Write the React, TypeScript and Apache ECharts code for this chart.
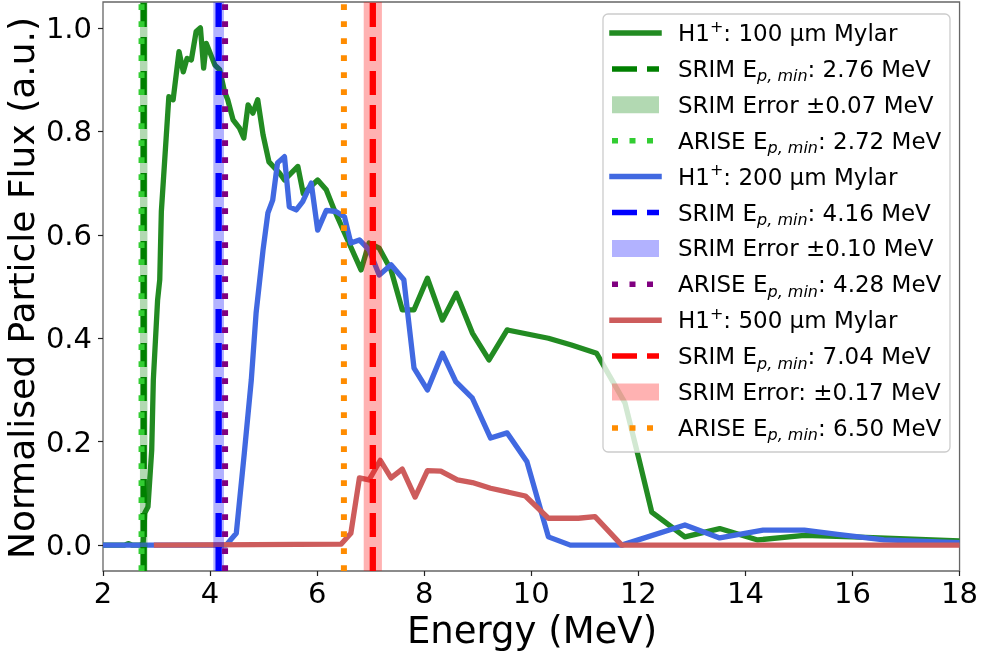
import React, { useEffect, useRef } from "react";
import * as echarts from "echarts";

const FONT = "'DejaVu Sans', sans-serif";

// ---- data ----
const xTicks = [2, 18, 2]; // min, max, interval
const yTicks = [0, 0.2, 0.4, 0.6, 0.8, 1.0];

const green100E = [2.0, 2.4, 2.47, 2.55, 2.7, 2.75, 2.78, 2.84, 2.91, 2.94, 3.02, 3.06, 3.09, 3.23, 3.31, 3.42, 3.5, 3.57, 3.65, 3.74, 3.82, 3.88, 3.93, 4.09, 4.18, 4.27, 4.33, 4.43, 4.55, 4.63, 4.71, 4.8, 4.89, 4.99, 5.1, 5.3, 5.39, 5.64, 5.74, 6.01, 6.17, 6.32, 6.82, 6.97, 7.16, 7.38, 7.59, 7.81, 8.06, 8.34, 8.6, 8.9, 9.21, 9.55, 10.32, 10.75, 11.22, 11.75, 12.0, 12.25, 12.87, 13.52, 14.23, 15.1, 16.0, 17.0, 18.0];
const green100Flux = [0, 0, 0.003, 0, 0, 0.004, 0.062, 0.074, 0.184, 0.319, 0.474, 0.513, 0.645, 0.867, 0.861, 0.954, 0.915, 0.941, 0.938, 0.993, 1.0, 0.922, 0.97, 0.928, 0.919, 0.877, 0.861, 0.822, 0.806, 0.787, 0.851, 0.835, 0.861, 0.793, 0.741, 0.719, 0.706, 0.732, 0.68, 0.706, 0.687, 0.648, 0.532, 0.584, 0.574, 0.532, 0.455, 0.455, 0.516, 0.435, 0.487, 0.41, 0.358, 0.416, 0.4, 0.387, 0.371, 0.275, 0.171, 0.064, 0.016, 0.032, 0.01, 0.019, 0.016, 0.012, 0.008];

const blue200E = [2.0, 4.3, 4.49, 4.64, 4.77, 4.86, 4.99, 5.08, 5.17, 5.26, 5.39, 5.48, 5.61, 5.73, 5.89, 6.01, 6.17, 6.35, 6.51, 6.63, 6.79, 6.97, 7.16, 7.38, 7.62, 7.81, 8.06, 8.34, 8.59, 8.9, 9.24, 9.55, 9.92, 10.32, 10.73, 11.69, 12.87, 13.52, 14.33, 15.1, 15.72, 16.59, 18.0];
const blue200Flux = [0, 0, 0.023, 0.178, 0.319, 0.449, 0.571, 0.642, 0.667, 0.739, 0.751, 0.654, 0.648, 0.664, 0.7, 0.609, 0.647, 0.645, 0.635, 0.584, 0.59, 0.571, 0.522, 0.542, 0.513, 0.342, 0.3, 0.371, 0.316, 0.284, 0.207, 0.217, 0.161, 0.016, 0, 0, 0.039, 0.014, 0.029, 0.029, 0.021, 0.01, 0.005];

const red500E = [2.95, 6.45, 6.63, 6.79, 6.97, 7.18, 7.38, 7.59, 7.83, 8.06, 8.31, 8.62, 8.9, 9.24, 9.89, 10.32, 10.88, 11.19, 11.69, 18.0];
const red500Flux = [0, 0.002, 0.023, 0.13, 0.126, 0.164, 0.13, 0.147, 0.093, 0.144, 0.143, 0.126, 0.121, 0.11, 0.095, 0.052, 0.052, 0.055, 0, 0];

const thickness = ["100", "200", "500"];
const srimEmin = [2.76, 4.16, 7.04];
const srimErr = [0.07, 0.10, 0.17];
const ariseEmin = [2.72, 4.28, 6.50];

const yRange = [-0.05, 1.05];

// ---- styles ----
const curveColors = ["#228B22", "#4169E1", "#CD5C5C"];
const dashColors = ["#008000", "#0000FF", "#FF0000"];
const bandColors = ["rgba(0,128,0,0.3)", "rgba(0,0,255,0.3)", "rgba(255,0,0,0.3)"];
const dotColors = ["#32CD32", "#800080", "#FF8C00"];

const DASH = [24, 10];
const DOT = [5.7, 11.3];

const zip = (a: number[], b: number[]) => a.map((v, i) => [v, b[i]]);

export default function App() {
  const ref = useRef<HTMLDivElement>(null);
  useEffect(() => {
    if (!ref.current) return;
    const chart = echarts.init(ref.current, null, { renderer: "svg" });

    const curves = [
      zip(green100E, green100Flux),
      zip(blue200E, blue200Flux),
      zip(red500E, red500Flux),
    ];

    const series: any[] = [];
    curves.forEach((d, i) => {
      series.push({
        type: "line",
        data: d,
        symbol: "none",
        showSymbol: false,
        silent: true,
        z: 2,
        lineStyle: { color: curveColors[i], width: 5.3, join: "round" },
      });
    });
    srimEmin.forEach((v, i) => {
      series.push({
        type: "custom",
        silent: true,
        z: 3,
        data: [[v - srimErr[i], v + srimErr[i]]],
        renderItem: (params: any, api: any) => {
          const p1 = api.coord([api.value(0), yRange[1]]);
          const p2 = api.coord([api.value(1), yRange[0]]);
          return {
            type: "rect",
            shape: { x: p1[0], y: p1[1], width: p2[0] - p1[0], height: p2[1] - p1[1] },
            style: { fill: bandColors[i] },
          };
        },
      });
      series.push({
        type: "line",
        data: [[v, yRange[0]], [v, yRange[1]]],
        symbol: "none",
        silent: true,
        z: 4,
        lineStyle: { color: dashColors[i], width: 6.3, type: DASH, cap: "butt" },
      });
    });
    ariseEmin.forEach((v, i) => {
      series.push({
        type: "line",
        data: [[v, yRange[0]], [v, yRange[1]]],
        symbol: "none",
        silent: true,
        z: 5,
        lineStyle: { color: dotColors[i], width: 6, type: DOT, cap: "butt" },
      });
    });

    // legend built with graphic elements
    const rich = {
      n: { fontSize: 23, fontFamily: FONT, fill: "#000", lineHeight: 30 },
      sub: { fontSize: 16, fontFamily: FONT, fontStyle: "italic", fill: "#000", lineHeight: 16, verticalAlign: "bottom" },
      sup: { fontSize: 16, fontFamily: FONT, fill: "#000", lineHeight: 16, verticalAlign: "top" },
    };
    const legendRows: { kind: string; color: string; text: string }[] = [];
    thickness.forEach((t, i) => {
      legendRows.push({ kind: "solid", color: curveColors[i], text: `{n|H1}{sup|+}{n|: ${t} µm Mylar}` });
      legendRows.push({ kind: "dash", color: dashColors[i], text: `{n|SRIM E}{sub|p, min}{n|: ${srimEmin[i].toFixed(2)} MeV}` });
      legendRows.push({
        kind: "band",
        color: bandColors[i],
        text: `{n|SRIM Error${i === 2 ? ":" : ""} ±${srimErr[i].toFixed(2)} MeV}`,
      });
      legendRows.push({ kind: "dot", color: dotColors[i], text: `{n|ARISE E}{sub|p, min}{n|: ${ariseEmin[i].toFixed(2)} MeV}` });
    });

    const graphics: any[] = [
      {
        type: "rect",
        z: 100,
        silent: true,
        shape: { x: 603, y: 14, width: 347, height: 438, r: 5 },
        style: { fill: "rgba(255,255,255,0.8)", stroke: "#cccccc", lineWidth: 1.3 },
      },
    ];
    legendRows.forEach((r, k) => {
      const y = 33 + 35.9 * k;
      if (r.kind === "band") {
        graphics.push({
          type: "rect", z: 101, silent: true,
          shape: { x: 612, y: y - 8.5, width: 47, height: 17 },
          style: { fill: r.color },
        });
      } else {
        graphics.push({
          type: "line", z: 101, silent: true,
          shape: { x1: 612, y1: y, x2: 659, y2: y },
          style: {
            stroke: r.color,
            lineWidth: 5.5,
            lineCap: r.kind === "solid" ? "square" : "butt",
            lineDash: r.kind === "dash" ? [25, 10] : r.kind === "dot" ? [6, 11.5] : null,
          },
        });
      }
      graphics.push({
        type: "text", z: 101, silent: true,
        x: 678, y,
        style: { text: r.text, rich, verticalAlign: "middle", align: "left", fontFamily: FONT, fontSize: 23, fill: "#000" },
      });
    });
    graphics.push({
      type: "text", z: 101, silent: true,
      x: 532, y: 630,
      style: { text: "Energy (MeV)", fontSize: 37, lineHeight: 30, fontFamily: FONT, fill: "#000", align: "center", verticalAlign: "middle" },
    });
    graphics.push({
      type: "text", z: 101, silent: true,
      x: 21, y: 288, rotation: Math.PI / 2,
      style: { text: "Normalised Particle Flux (a.u.)", fontSize: 36, lineHeight: 34, fontFamily: FONT, fill: "#000", align: "center", verticalAlign: "middle" },
    });

    chart.setOption({
      animation: false,
      grid: { left: 103, right: 19, top: 2, bottom: 83, show: true, borderColor: "#666", borderWidth: 1.3, backgroundColor: "transparent" },
      xAxis: {
        type: "value",
        min: xTicks[0],
        max: xTicks[1],
        interval: xTicks[2],
        axisLine: { show: false, onZero: false },
        axisTick: { show: true, inside: false, length: 5, lineStyle: { color: "#222", width: 1.2 } },
        axisLabel: { fontSize: 29, color: "#000", fontFamily: FONT, margin: 9, lineHeight: 26 },
        splitLine: { show: false },
      },
      yAxis: {
        type: "value",
        min: yRange[0],
        max: yRange[1],
        axisLine: { show: false, onZero: false },
        axisTick: { show: true, inside: false, length: 5, customValues: yTicks, lineStyle: { color: "#222", width: 1.2 } },
        axisLabel: {
          fontSize: 29, color: "#000", fontFamily: FONT, margin: 11,
          customValues: yTicks,
          formatter: (v: number) => v.toFixed(1),
        },
        splitLine: { show: false },
      },
      series,
      graphic: graphics,
    });
    return () => chart.dispose();
  }, []);
  return <div ref={ref} style={{ position: "fixed", left: 0, top: 0, width: 981, height: 654 }} />;
}
